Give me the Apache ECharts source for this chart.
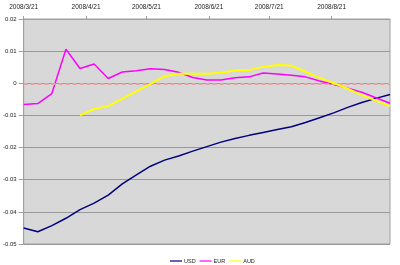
<!DOCTYPE html>
<html>
<head>
<meta charset="utf-8">
<script src="https://cdn.jsdelivr.net/npm/echarts@6/dist/echarts.min.js"></script>
<style>html,body{margin:0;padding:0;background:#fff}#c{width:400px;height:265px}</style>
</head>
<body>
<div id="c"></div>
<script>
const dates = ['2008/3/21','2008/3/28','2008/4/4','2008/4/11','2008/4/18','2008/4/25','2008/5/2','2008/5/9','2008/5/16','2008/5/23','2008/5/30','2008/6/6','2008/6/13','2008/6/20','2008/6/27','2008/7/4','2008/7/11','2008/7/18','2008/7/25','2008/8/1','2008/8/8','2008/8/15','2008/8/22','2008/8/29','2008/9/5','2008/9/12','2008/9/19'];
const usd = [-0.0450,-0.0462,-0.0443,-0.0420,-0.0393,-0.0373,-0.0348,-0.0313,-0.0285,-0.0258,-0.0239,-0.0226,-0.0211,-0.0197,-0.0183,-0.0172,-0.0162,-0.0153,-0.0144,-0.0135,-0.0122,-0.0107,-0.0092,-0.0075,-0.0060,-0.0047,-0.0035];
const eur = [-0.0066,-0.0063,-0.0032,0.0106,0.0046,0.0060,0.0015,0.0035,0.0039,0.0045,0.0043,0.0034,0.0018,0.0010,0.0010,0.0017,0.0020,0.0032,0.0029,0.0025,0.0020,0.0007,-0.0004,-0.0015,-0.0028,-0.0045,-0.0062];
const aud = [null,null,null,null,-0.0100,-0.0080,-0.0071,-0.0048,-0.0025,-0.0002,0.0022,0.0030,0.0030,0.0030,0.0033,0.0040,0.0041,0.0051,0.0057,0.0055,0.0036,0.0017,0.0001,-0.0017,-0.0037,-0.0054,-0.0071];
const tickLabels = ['2008/3/21','2008/4/21','2008/5/21','2008/6/21','2008/7/21','2008/8/21'];
const seriesNames = ['USD','EUR','AUD'];
const yTicks = {min:-0.05, max:0.02, interval:0.01};

const DAY = 86400000;
const t0 = new Date(dates[0]).getTime();
const dayOf = s => Math.round((new Date(s).getTime() - t0) / DAY);
const pairs = arr => dates.map((d,i)=>[dayOf(d), arr[i]]);
const tickVals = tickLabels.map(dayOf);
const font = 'Liberation Sans';

const chart = echarts.init(document.getElementById('c'), null, {renderer:'canvas'});
chart.setOption({
  animation:false,
  backgroundColor:'#ffffff',
  grid:{left:23,right:10,top:19,bottom:21,show:true,backgroundColor:'#d8d8d8',borderColor:'#a0a0a0',borderWidth:1},
  legend:{
    data:seriesNames, top:253, left:165, icon:'rect', itemWidth:12, itemHeight:1.2, itemGap:4,
    textStyle:{fontFamily:font,fontSize:5.5,color:'#222',padding:[0,0,0,-3]}
  },
  xAxis:{
    type:'value', position:'top',
    min:0, max:dayOf(dates[dates.length-1]),
    axisLine:{show:true,onZero:false,lineStyle:{color:'#a0a0a0',width:1}},
    axisTick:{show:true,customValues:tickVals,length:3,inside:false,lineStyle:{color:'#a0a0a0'}},
    axisLabel:{customValues:tickVals,fontFamily:font,fontSize:6.5,color:'#222',margin:8,showMinLabel:true,showMaxLabel:true,
      formatter:v=>{const i=tickVals.indexOf(Math.round(v));return i>=0?tickLabels[i]:'';}},
    splitLine:{show:false}
  },
  yAxis:{
    type:'value', min:yTicks.min, max:yTicks.max, interval:yTicks.interval,
    axisLine:{show:true,onZero:false,lineStyle:{color:'#a0a0a0'}},
    axisTick:{show:true,length:5,lineStyle:{color:'#a0a0a0'}},
    axisLabel:{fontFamily:font,fontSize:6,color:'#222',margin:7,formatter:v=>String(+v.toFixed(2))},
    splitLine:{show:true,lineStyle:{color:'#999999',width:1}}
  },
  series:[
    {name:seriesNames[0],type:'line',data:pairs(usd),showSymbol:false,color:'#000080',lineStyle:{width:1.5,color:'#000080'},z:3,
     markLine:{silent:true,symbol:'none',label:{show:false},data:[{yAxis:0}],lineStyle:{type:[4,3],color:'#e8a0a0',width:2}}},
    {name:seriesNames[1],type:'line',data:pairs(eur),showSymbol:false,color:'#ff00ff',lineStyle:{width:1.5,color:'#ff00ff'},z:4},
    {name:seriesNames[2],type:'line',data:pairs(aud),showSymbol:false,color:'#ffff00',lineStyle:{width:2,color:'#ffff00'},z:5}
  ]
});
</script>
</body>
</html>
